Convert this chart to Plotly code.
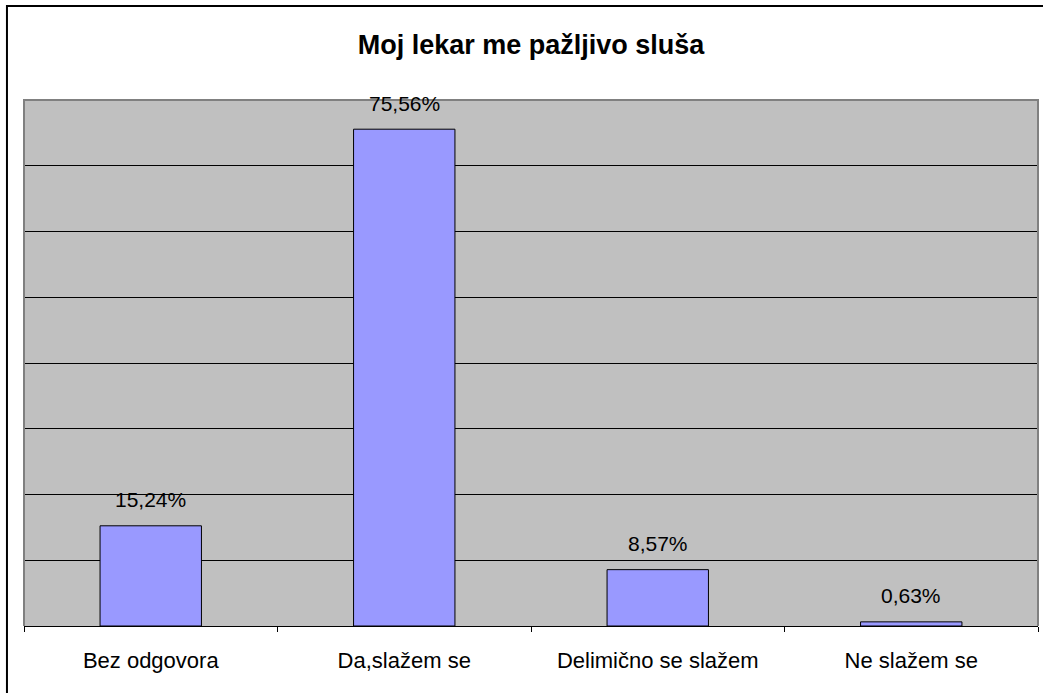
import plotly.graph_objects as go

categories = ["Bez odgovora", "Da,slažem se", "Delimično se slažem", "Ne slažem se"]
values = [15.24, 75.56, 8.57, 0.63]
labels = ["15,24%", "75,56%", "8,57%", "0,63%"]
title_text = "Moj lekar me pažljivo sluša"

FONT = "Liberation Sans, Arial, sans-serif"

fig = go.Figure()
fig.add_trace(go.Bar(
    x=categories, y=values,
    marker=dict(color="#9999FF", line=dict(color="black", width=1)),
    hoverinfo="skip",
))

for c, v, t in zip(categories, values, labels):
    fig.add_annotation(x=c, y=v, text=t, showarrow=False, yanchor="middle",
                       yshift=26, font=dict(family=FONT, size=21, color="black"))

fig.update_layout(
    width=1043, height=693,
    margin=dict(l=24, r=5, t=100, b=67),
    paper_bgcolor="white", plot_bgcolor="#C0C0C0",
    bargap=0.6, showlegend=False,
    title=dict(text=title_text, x=531/1043, xanchor="center", y=1 - 45/693, yanchor="middle",
               yref="container", xref="container",
               font=dict(family=FONT, size=27, color="black", weight="bold")),
    xaxis=dict(type="category", tickson="boundaries", ticks="outside", ticklen=5,
               tickcolor="black", tickwidth=1, showline=True, linecolor="black", linewidth=1,
               showgrid=False, ticklabelstandoff=15,
               tickfont=dict(family=FONT, size=22, color="black")),
    yaxis=dict(range=[0, 80], dtick=10, showticklabels=False, showgrid=True,
               gridcolor="black", gridwidth=1, zeroline=False, showline=False, ticks=""),
)

fig.add_shape(type="path", xref="paper", yref="paper",
              path="M0,0 L0,1 L1,1 L1,0", line=dict(color="#808080", width=2), layer="above")
fig.add_shape(type="path", xref="paper", yref="paper",
              path="M-0.0168,-0.3 L-0.0168,1.1787 L1.1,1.1787",
              line=dict(color="black", width=2), layer="above")

fig.write_html("out.html", config={"displayModeBar": False},
               post_script="document.body.style.margin='0';document.body.style.overflow='hidden';")
